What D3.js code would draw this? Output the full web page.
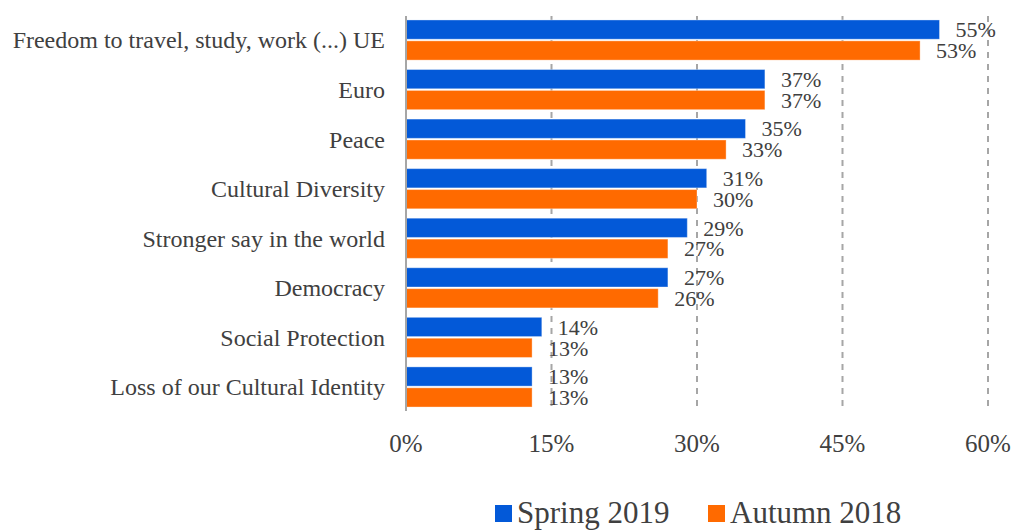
<!DOCTYPE html>
<html><head><meta charset="utf-8">
<script src="https://cdn.jsdelivr.net/npm/d3@7"></script>
<style>body{margin:0;background:#fff}svg{display:block}</style>
</head><body>
<svg id="c" width="1015" height="531"></svg>
<script>
const categories = ["Freedom to travel, study, work (...) UE","Euro","Peace","Cultural Diversity","Stronger say in the world","Democracy","Social Protection","Loss of our Cultural Identity"];
const spring2019 = [55,37,35,31,29,27,14,13];
const autumn2018 = [53,37,33,30,27,26,13,13];
const seriesNames = ["Spring 2019","Autumn 2018"];
const seriesColors = ["#0359D8","#FF6A00"];
const ticks = [0,15,30,45,60];

const svg = d3.select("#c");
const font = "'Liberation Serif','Times New Roman',serif";
const textCol = "#404040";
const x = d3.scaleLinear().domain([0,60]).range([406,988]);
const y = d3.scaleBand().domain(categories).range([16,411]).paddingInner(0.19).paddingOuter(0.08);
const ys = d3.scaleBand().domain([0,1]).range([0,y.bandwidth()]).paddingInner(0.08);

// gridlines
svg.append("g").selectAll("line").data(ticks.slice(1)).join("line")
  .attr("x1",d=>x(d)).attr("x2",d=>x(d)).attr("y1",16).attr("y2",411)
  .attr("stroke","#A6A6A6").attr("stroke-width",2).attr("stroke-dasharray","6,6");

const data = [spring2019, autumn2018];
const g = svg.append("g");
categories.forEach((c,i)=>{
  data.forEach((s,k)=>{
    g.append("rect").attr("x",x(0)).attr("y",y(c)+ys(k))
      .attr("width",x(s[i])-x(0)).attr("height",ys.bandwidth())
      .attr("fill",seriesColors[k]).attr("stroke","#fff").attr("stroke-opacity",0.35).attr("stroke-width",1);
  });
});
categories.forEach((c,i)=>{
  data.forEach((s,k)=>{
    g.append("text").attr("x",x(s[i])+16).attr("y",y(c)+ys(k)+ys.bandwidth()/2)
      .attr("dy","0.35em").attr("font-family",font).attr("font-size",22).attr("fill",textCol)
      .text(s[i]+"%");
  });
});

// axis line
svg.append("line").attr("x1",x(0)).attr("x2",x(0)).attr("y1",16).attr("y2",411)
  .attr("stroke","#A6A6A6").attr("stroke-width",2);

// category labels
svg.append("g").selectAll("text").data(categories).join("text")
  .attr("x",385).attr("y",d=>y(d)+y.bandwidth()/2).attr("dy","0.35em")
  .attr("text-anchor","end").attr("font-family",font).attr("font-size",24).attr("fill",textCol)
  .text(d=>d);

// x tick labels
svg.append("g").selectAll("text").data(ticks).join("text")
  .attr("x",d=>x(d)).attr("y",443).attr("dy","0.35em").attr("text-anchor","middle")
  .attr("font-family",font).attr("font-size",25).attr("fill",textCol).text(d=>d+"%");

// legend
const lg = svg.append("g");
const legX = [495,708];
seriesNames.forEach((n,k)=>{
  lg.append("rect").attr("x",legX[k]).attr("y",505).attr("width",17).attr("height",17).attr("fill",seriesColors[k]);
  lg.append("text").attr("x",legX[k]+22).attr("y",523)
    .attr("font-family",font).attr("font-size",31).attr("fill",textCol).text(n);
});
</script>
</body></html>
